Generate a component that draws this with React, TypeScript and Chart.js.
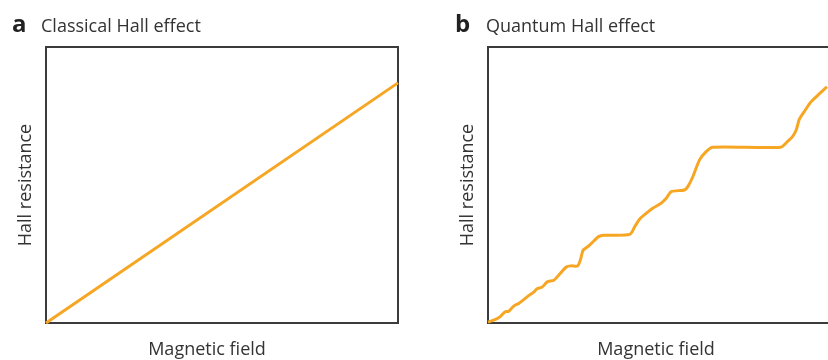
import React, { useEffect, useRef } from "react";
import { Chart, registerables } from "chart.js";

Chart.register(...registerables);

// Panel a: classical Hall effect (straight line)
const classicalField: number[] = [0, 100];
const classicalResistance: number[] = [0, 87];

// Panel b: quantum Hall effect (plateaus)
const quantumField: number[] = [
  0, 2.1, 3.5, 4.6, 5.7, 7.1, 8.4, 9.6, 11.2, 12.5, 13.4, 14.8, 16.2, 18.0,
  19.3, 21.4, 22.7, 24.5, 25.3, 26.0, 27.5, 28.9, 30.2, 31.6, 38.7, 40.1, 41.4,
  43.2, 45.0, 47.3, 48.7, 50.1, 53.7, 54.6, 55.9, 57.8, 59.6, 61.4, 80.0, 81.8,
  83.2, 84.2, 85.0, 86.4, 88.3, 90.5, 92.6,
];
const quantumResistance: number[] = [
  0.3, 1.3, 2.5, 4.0, 4.3, 6.2, 7.1, 8.3, 10.0, 11.2, 12.4, 13.0, 14.9, 15.5,
  17.3, 20.3, 20.7, 20.7, 23.1, 26.4, 27.9, 29.7, 31.3, 31.8, 32.1, 34.9, 37.6,
  39.7, 41.6, 43.4, 45.2, 47.6, 48.2, 49.4, 52.8, 59.1, 62.1, 63.7, 63.7, 65.7,
  67.5, 69.9, 73.6, 76.6, 80.2, 83.0, 85.6,
];

const xAxisLabel = "Magnetic field";
const yAxisLabel = "Hall resistance";

const LINE_COLOR = "#f6a623";
const FRAME_COLOR = "#3b3b3b";
const TEXT_COLOR = "#333333";
const FONT = "'Open Sans', sans-serif";

type PanelProps = {
  xs: number[];
  ys: number[];
  left: number;
  width: number;
  padRight: number;
  tension: number;
};

function Panel({ xs, ys, left, width, padRight, tension }: PanelProps) {
  const ref = useRef<HTMLCanvasElement | null>(null);
  useEffect(() => {
    if (!ref.current) return;
    const frame = {
      display: true,
      color: FRAME_COLOR,
      width: 2,
    };
    const hidden = {
      ticks: { display: false },
      grid: { display: false, drawTicks: false },
      border: frame,
    };
    const chart = new Chart(ref.current, {
      type: "line",
      data: {
        datasets: [
          {
            data: xs.map((x, i) => ({ x, y: ys[i] })),
            borderColor: LINE_COLOR,
            borderWidth: 3,
            pointRadius: 0,
            tension,
            fill: false,
            clip: false as any,
          },
        ],
      },
      options: {
        responsive: false,
        animation: false,
        devicePixelRatio: 1,
        layout: { padding: { left: 18, top: 47, right: padRight, bottom: 1 } },
        plugins: {
          legend: { display: false },
          tooltip: { enabled: false },
          title: {
            display: true,
            position: "bottom",
            fullSize: true,
            text: xAxisLabel,
            color: TEXT_COLOR,
            font: { family: FONT, size: 18, weight: "normal", lineHeight: 1 },
            padding: { top: 18, bottom: 0 },
          },
        },
        scales: {
          x: {
            type: "linear",
            position: "bottom",
            min: 0,
            max: 100,
            ...hidden,
          },
          y: {
            type: "linear",
            position: "left",
            min: 0,
            max: 100,
            ...hidden,
            title: {
              display: true,
              text: yAxisLabel,
              color: TEXT_COLOR,
              font: { family: FONT, size: 18, weight: "normal", lineHeight: 1 },
              padding: { top: 1, bottom: 11 },
            },
          },
          x2: {
            type: "linear",
            position: "top",
            min: 0,
            max: 100,
            ...hidden,
          },
          y2: {
            type: "linear",
            position: "right",
            min: 0,
            max: 100,
            ...hidden,
          },
        },
      } as any,
    });
    return () => chart.destroy();
  }, [xs, ys, width, padRight, tension]);
  return (
    <canvas
      ref={ref}
      width={width}
      height={360}
      style={{ position: "absolute", left, top: 0, width, height: 360 }}
    />
  );
}

const headingLetter: React.CSSProperties = {
  position: "absolute",
  top: 11,
  fontFamily: FONT,
  fontWeight: 700,
  fontSize: 24,
  lineHeight: 1,
  color: "#222222",
  whiteSpace: "nowrap",
};
const headingText: React.CSSProperties = {
  position: "absolute",
  top: 16,
  fontFamily: FONT,
  fontWeight: 400,
  fontSize: 18,
  lineHeight: 1,
  color: TEXT_COLOR,
  whiteSpace: "nowrap",
};

export default function App() {
  return (
    <div
      style={{
        position: "absolute",
        left: 0,
        top: 0,
        width: 828,
        height: 360,
        overflow: "hidden",
        background: "#ffffff",
      }}
    >
      <Panel
        xs={classicalField}
        ys={classicalResistance}
        left={-2}
        width={420}
        padRight={20}
        tension={0}
      />
      <Panel
        xs={quantumField}
        ys={quantumResistance}
        left={440}
        width={420}
        padRight={6}
        tension={0.25}
      />
      <span style={{ ...headingLetter, left: 12 }}>a</span>
      <span style={{ ...headingText, left: 41 }}>Classical Hall effect</span>
      <span style={{ ...headingLetter, left: 455 }}>b</span>
      <span style={{ ...headingText, left: 486 }}>Quantum Hall effect</span>
    </div>
  );
}
